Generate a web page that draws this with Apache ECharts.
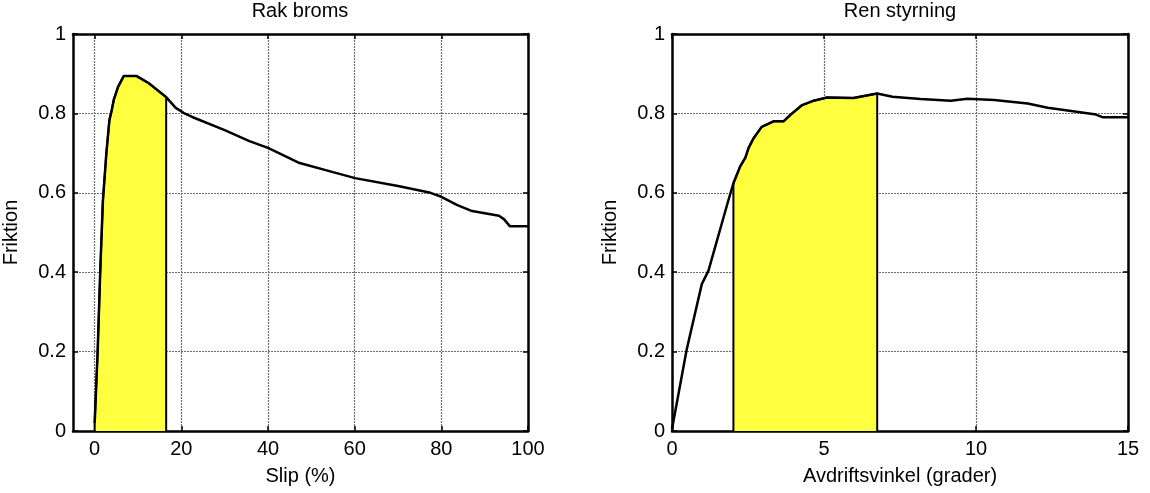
<!DOCTYPE html>
<html><head><meta charset="utf-8">
<script src="https://cdn.jsdelivr.net/npm/echarts@6/dist/echarts.min.js"></script>
<style>html,body{margin:0;padding:0;background:#fff}#c{width:1150px;height:493px}</style>
</head><body><div id="c"></div>
<script>
// ---- data ----
const titles = ['Rak broms', 'Ren styrning'];
const xNames = ['Slip (%)', 'Avdriftsvinkel (grader)'];
const yName = 'Friktion';

const slipX = [0, 0.7, 1.3, 1.9, 2.7, 3.4, 3.9, 4.4, 5.4, 6.7, 9.7, 12.5, 16.5, 18.7, 20.6, 22.5, 30, 35.7, 40, 47.3, 55, 60.1, 70, 77.5, 80, 83.7, 87.1, 93.3, 94.5, 95.8, 100];
const slipY = [0.02, 0.204, 0.406, 0.58, 0.70, 0.783, 0.806, 0.834, 0.867, 0.894, 0.894, 0.876, 0.841, 0.814, 0.801, 0.791, 0.758, 0.73, 0.713, 0.675, 0.652, 0.637, 0.617, 0.60, 0.59, 0.569, 0.554, 0.542, 0.533, 0.516, 0.516];
const slipFill = [0, 16.5];
const slipTicks = [0, 20, 40, 60, 80, 100];

const angX = [0, 0.48, 0.98, 1.2, 1.85, 2.02, 2.24, 2.41, 2.52, 2.68, 2.95, 3.34, 3.67, 3.89, 4.28, 4.66, 5.1, 5.97, 6.75, 7.25, 8.18, 9.17, 9.72, 10.6, 11.7, 12.36, 13.9, 14.18, 15];
const angY = [0.005, 0.204, 0.37, 0.404, 0.58, 0.624, 0.666, 0.688, 0.713, 0.737, 0.766, 0.78, 0.78, 0.796, 0.821, 0.832, 0.84, 0.839, 0.85, 0.842, 0.836, 0.832, 0.837, 0.834, 0.825, 0.814, 0.798, 0.79, 0.79];
const angFill = [2.02, 6.75];
const angTicks = [0, 5, 10, 15];
const yTicks = [0, 0.2, 0.4, 0.6, 0.8, 1];

// ---- build ----
const FONT = 'Liberation Sans, Arial, sans-serif';
const FS = 20;
function pairs(xs, ys) { return xs.map((x, i) => [x, ys[i]]); }
function fillData(xs, ys, range) {
  const pts = pairs(xs, ys).filter(p => p[0] >= range[0] && p[0] <= range[1]);
  return [[range[0], 0]].concat(pts, [[range[1], 0]]);
}
const gridDefs = [
  { left: 73, right: 622, top: 34, bottom: 62 },
  { left: 672, right: 22, top: 34, bottom: 62 }
];
const tickStyle = { show: true, inside: true, length: 5, lineStyle: { color: '#000', width: 1.5 } };
const lineAx = { show: true, onZero: false, lineStyle: { color: '#000', width: 2.5 } };
const split = { show: true, lineStyle: { color: '#6e6e6e', type: [2, 1], width: 1.2 } };
const lab = { color: '#000', fontSize: FS, fontFamily: FONT };

function xAxes(g, min, max, ticks, name) {
  return [
    { type: 'value', gridIndex: g, position: 'bottom', min: min, max: max,
      axisLine: lineAx, axisTick: Object.assign({}, tickStyle, { customValues: ticks }),
      axisLabel: Object.assign({}, lab, { margin: 8, customValues: ticks }),
      splitLine: split,
      name: name, nameLocation: 'middle', nameGap: 35,
      nameTextStyle: { color: '#000', fontSize: FS, fontFamily: FONT } },
    { type: 'value', gridIndex: g, position: 'top', min: min, max: max,
      axisLine: lineAx, axisTick: Object.assign({}, tickStyle, { customValues: ticks }),
      axisLabel: { show: false }, splitLine: { show: false } }
  ];
}
function yAxes(g) {
  return [
    { type: 'value', gridIndex: g, position: 'left', min: 0, max: 1, interval: 0.2,
      axisLine: lineAx, axisTick: tickStyle,
      axisLabel: Object.assign({}, lab, { margin: 7 }),
      splitLine: split,
      name: yName, nameLocation: 'middle', nameGap: 52,
      nameTextStyle: { color: '#000', fontSize: FS, fontFamily: FONT } },
    { type: 'value', gridIndex: g, position: 'right', min: 0, max: 1, interval: 0.2,
      axisLine: lineAx, axisTick: tickStyle, axisLabel: { show: false }, splitLine: { show: false } }
  ];
}

const option = {
  animation: false,
  backgroundColor: '#fff',
  title: titles.map((t, i) => ({
    text: t, left: i === 0 ? 300 : 900, textAlign: 'center', top: 1, padding: 0,
    textStyle: { color: '#000', fontSize: FS, fontWeight: 'normal', fontFamily: FONT }
  })),
  grid: gridDefs,
  xAxis: xAxes(0, -5, 100, slipTicks, xNames[0]).concat(xAxes(1, 0, 15, angTicks, xNames[1])),
  yAxis: yAxes(0).concat(yAxes(1)),
  series: [
    { type: 'line', xAxisIndex: 0, yAxisIndex: 0, data: fillData(slipX, slipY, slipFill),
      showSymbol: false, lineStyle: { color: '#000', width: 2 }, areaStyle: { color: '#ffff40', opacity: 1 }, z: 2 },
    { type: 'line', xAxisIndex: 0, yAxisIndex: 0, data: pairs(slipX, slipY),
      showSymbol: false, lineStyle: { color: '#000', width: 2.5 }, z: 3 },
    { type: 'line', xAxisIndex: 2, yAxisIndex: 2, data: fillData(angX, angY, angFill),
      showSymbol: false, lineStyle: { color: '#000', width: 2 }, areaStyle: { color: '#ffff40', opacity: 1 }, z: 2 },
    { type: 'line', xAxisIndex: 2, yAxisIndex: 2, data: pairs(angX, angY),
      showSymbol: false, lineStyle: { color: '#000', width: 2.5 }, z: 3 }
  ]
};
const chart = echarts.init(document.getElementById('c'), null, { renderer: 'canvas' });
chart.setOption(option);
</script>
</body></html>
